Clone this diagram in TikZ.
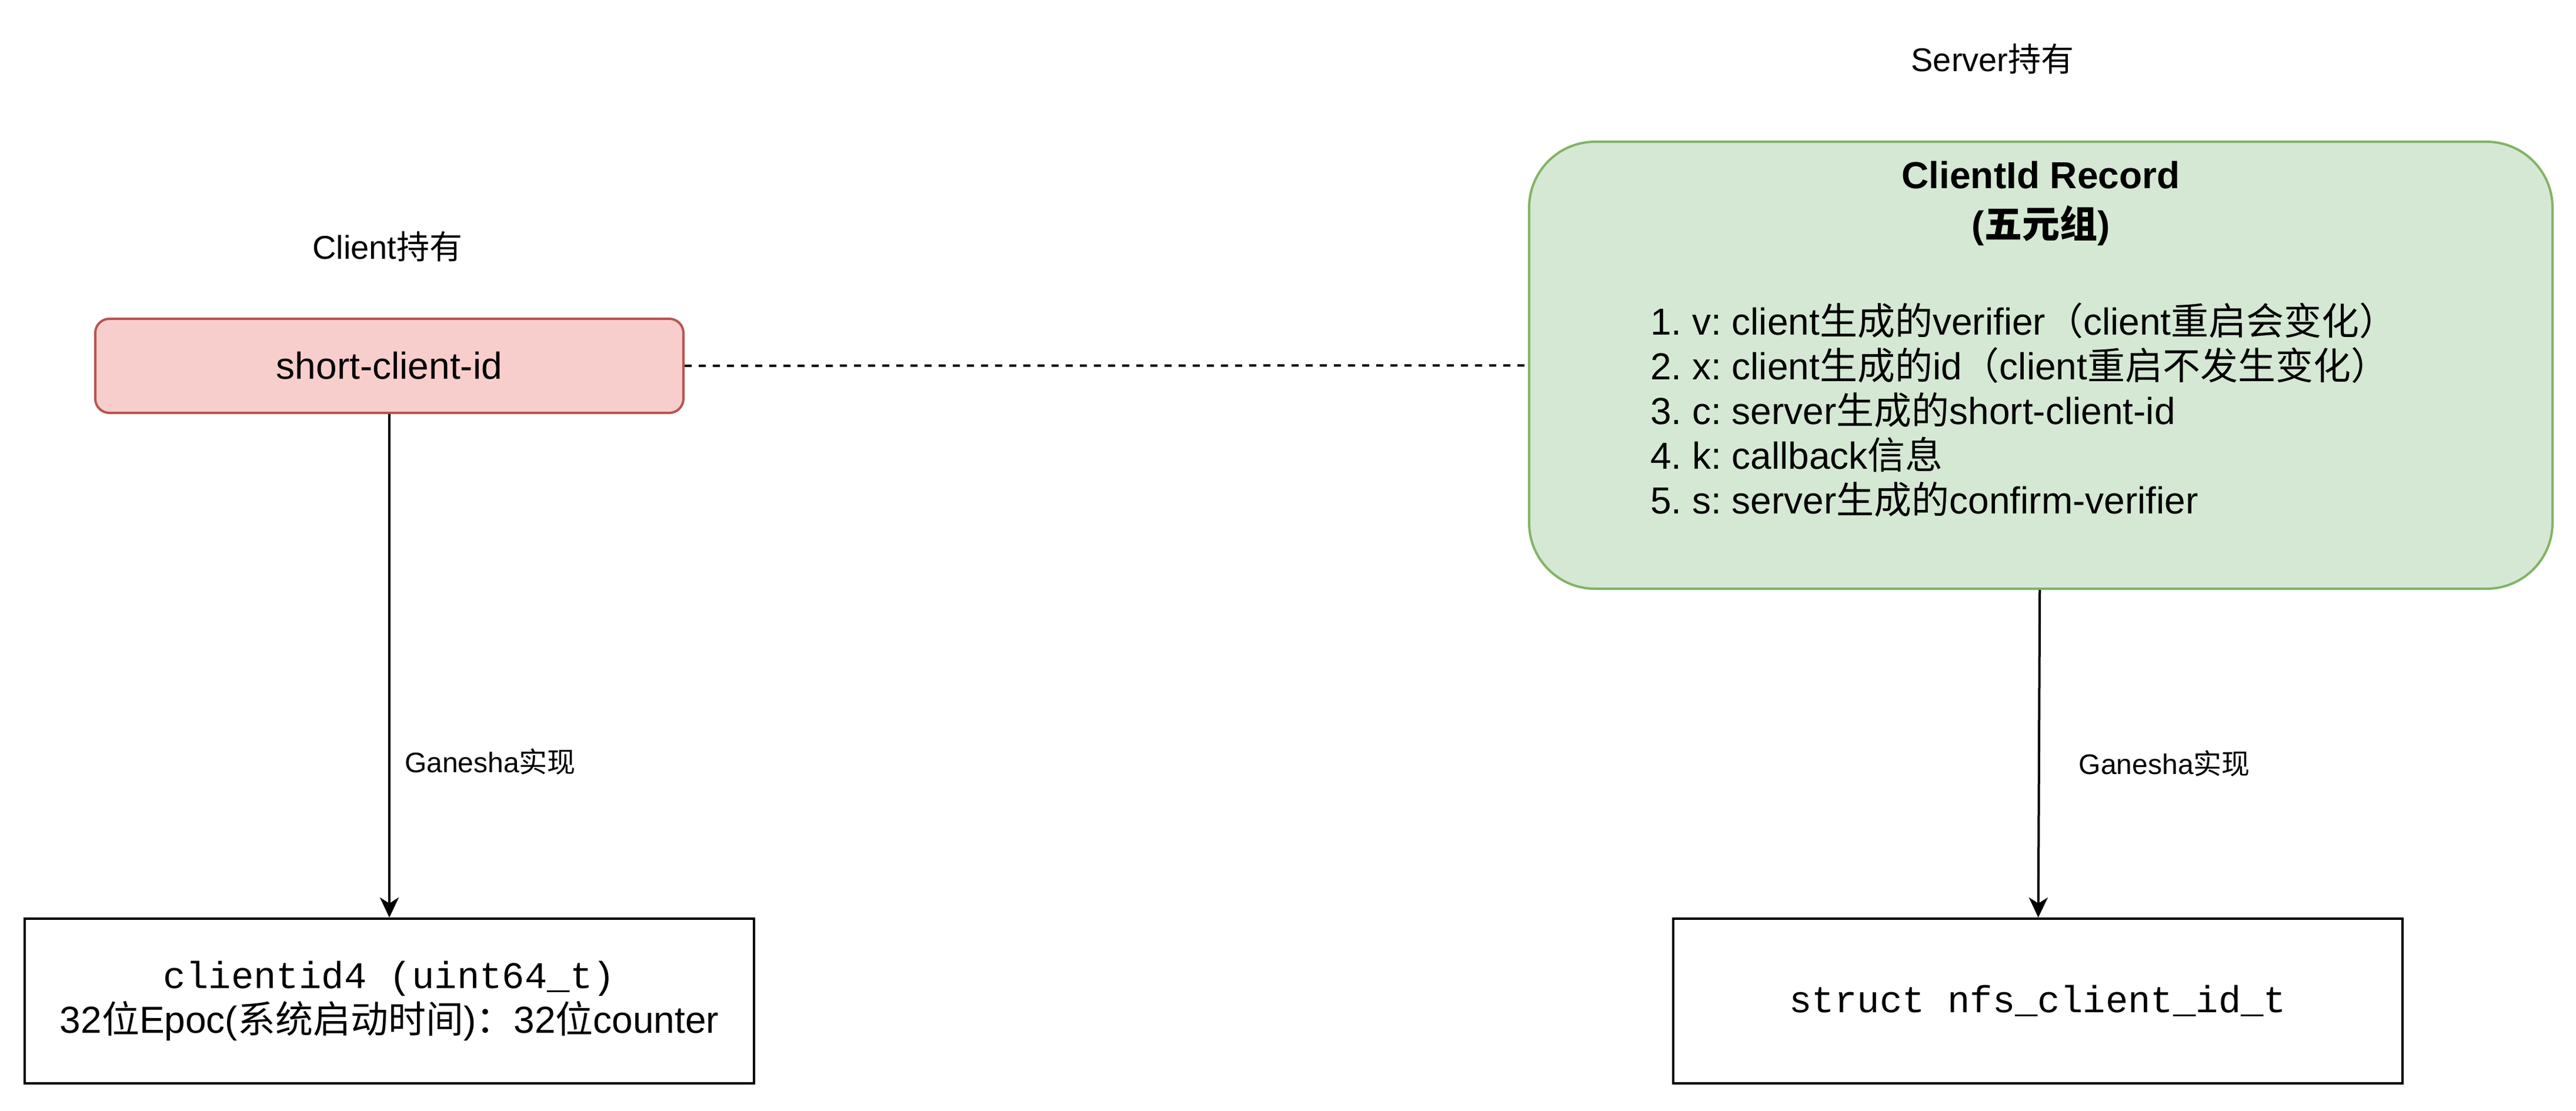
\documentclass[tikz,border=0pt]{standalone}
\usepackage{fontspec}
\setmainfont{Liberation Sans}
\setmonofont{Liberation Mono}
\newfontfamily\cjk{Noto Sans CJK SC}
\newcommand{\zh}[1]{{\cjk #1}}
\usetikzlibrary{arrows.meta}
\definecolor{redfill}{HTML}{F8CECC}
\definecolor{redline}{HTML}{B85450}
\definecolor{greenfill}{HTML}{D5E8D4}
\definecolor{greenline}{HTML}{82B366}
\tikzset{
	box/.style={draw,minimum width=310pt,minimum height=70pt,inner sep=0pt,align=center,font=\fontsize{16}{19}\selectfont},
	lab/.style={inner sep=0pt,font=\fontsize{12}{14}\selectfont},
	head/.style={inner sep=0pt,font=\fontsize{14}{17}\selectfont},
	arr/.style={-{Stealth[length=8.5pt,width=8pt,inset=2.5pt]}}
}
\frenchspacing
\begin{document}
\begin{tikzpicture}[x=1pt,y=-1pt,line width=1pt]
		\useasboundingbox (0,0) rectangle (1095,472);
		\node[head](C) at (164.75,104.75) {Client\zh{持有}};
		\node[head](S) at (847,25) {Server\zh{持有}};
		\node[draw=redline,fill=redfill,rounded corners=6pt,minimum width=250pt,minimum height=40pt,font=\fontsize{16}{19}\selectfont](P) at (165.5,155.5) {short-client-id};
		\node[draw=greenline,fill=greenfill,rounded corners=28pt,minimum width=435pt,minimum height=190pt](R) at (867.5,155.25) {};
		\node[align=center,inner sep=0pt,font=\fontsize{16}{21}\selectfont\bfseries](H) at (867.5,86.5) {ClientId Record\\(\zh{五元组})};
		\node[anchor=west,align=left,inner sep=0pt,font=\fontsize{16}{19}\selectfont\frenchspacing](F) at (701,174.25) {1. v: client\zh{生成的}verifier\zh{（}client\zh{重启会变化）}\\
			2. x: client\zh{生成的}id\zh{（}client\zh{重启不发生变化）}\\
			3. c: server\zh{生成的}short-client-id\\
			4. k: callback\zh{信息}\\
			5. s: server\zh{生成的}confirm-verifier};
		\node[box](L) at (165.5,425.5) {{\ttfamily clientid4 (uint64\_t)}\\32\zh{位}Epoc(\zh{系统启动时间})\zh{：}32\zh{位}counter};
		\node[box,font=\fontsize{16}{19}\selectfont\ttfamily](T) at (866.25,425.5) {struct nfs\_client\_id\_t};
		\draw[dash pattern=on 3pt off 3pt] (P) -- (R);
		\draw[arr] (P) -- node[lab,pos=0.69,right=6pt] {Ganesha\zh{实现}} (L);
		\draw[arr] (R) -- node[lab,pos=0.53,right=16.5pt] {Ganesha\zh{实现}} (T);
\end{tikzpicture}
\end{document}
